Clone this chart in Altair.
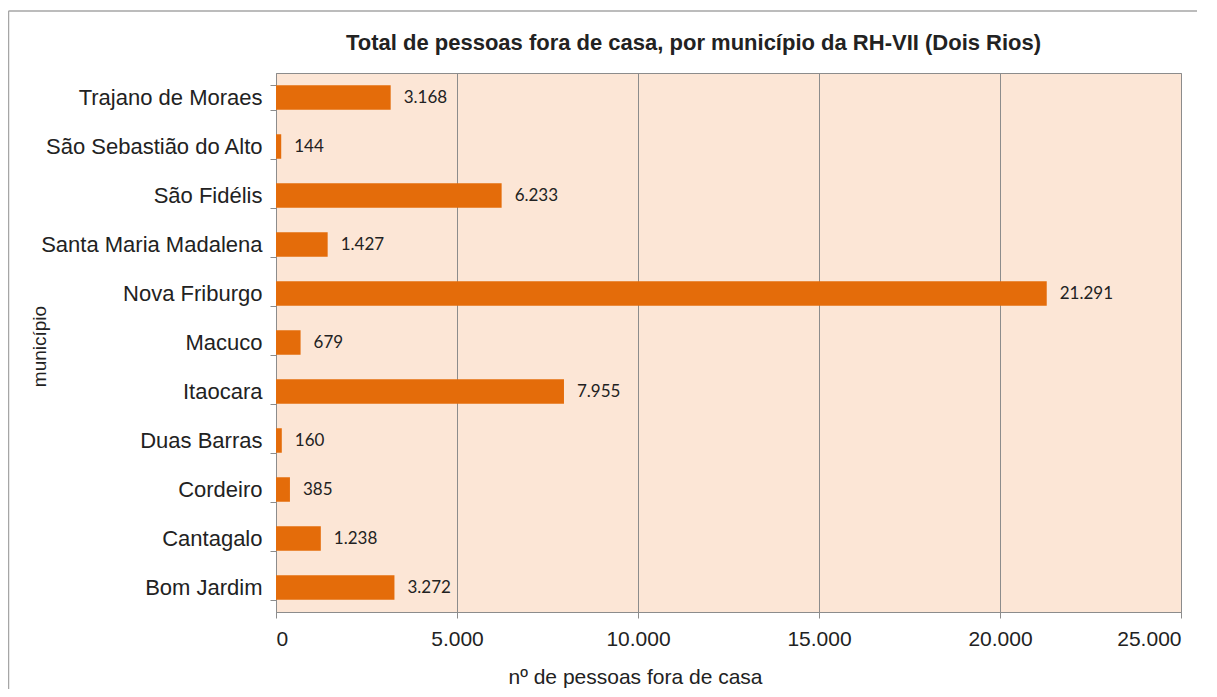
import altair as alt
import pandas as pd

municipios = ["Trajano de Moraes", "São Sebastião do Alto", "São Fidélis", "Santa Maria Madalena",
              "Nova Friburgo", "Macuco", "Itaocara", "Duas Barras", "Cordeiro", "Cantagalo", "Bom Jardim"]
pessoas = [3168, 144, 6233, 1427, 21291, 679, 7955, 160, 385, 1238, 3272]
x_ticks = [0, 5000, 10000, 15000, 20000, 25000]
titulo = ["Total de pessoas fora de casa, por município da RH-VII (Dois Rios)"]

df = pd.DataFrame({"municipio": municipios, "pessoas": pessoas})
df_title = pd.DataFrame({"titulo": titulo})

W, H = 905, 539
fmt = "replace(format(datum.value, ','), ',', '.')"

base = alt.Chart(df)
single = alt.Chart(df_title)

bars = base.mark_bar(color="#E46C0A").encode(
    x=alt.X("pessoas:Q",
            scale=alt.Scale(domain=[0, 25000], nice=False),
            axis=alt.Axis(values=x_ticks, labelExpr=fmt, title="nº de pessoas fora de casa",
                          grid=True, gridColor="#8C8C8C", gridWidth=1,
                          domainColor="#8C8C8C", tickColor="#8C8C8C", tickSize=6,
                          labelFont="Liberation Sans", labelFontSize=21, labelColor="#222222",
                          labelPadding=10,
                          titleFont="Liberation Sans", titleFontSize=21, titleFontWeight="normal",
                          titleColor="#222222", titleX=232, titleY=71, titleAlign="left",
                          titleBaseline="alphabetic")),
    y=alt.Y("municipio:N", sort=municipios,
            scale=alt.Scale(paddingInner=0.5, paddingOuter=0.25),
            axis=alt.Axis(title="município", tickBand="extent", tickSize=6,
                          domainColor="#8C8C8C", tickColor="#8C8C8C",
                          labelFont="Liberation Sans", labelFontSize=22, labelColor="#222222",
                          labelPadding=8, labelLimit=400,
                          titleFont="Liberation Sans", titleFontSize=19, titleFontWeight="normal",
                          titleColor="#222222", titleX=-237, titleY=273, titleAngle=-90,
                          titleBaseline="middle", titleAlign="center")),
)

labels = base.mark_text(align="left", baseline="middle", dx=13, font="Lato", fontSize=17,
                        color="#222222").encode(
    x="pessoas:Q",
    y=alt.Y("municipio:N", sort=municipios),
    text=alt.Text("label:N"),
).transform_calculate(label="replace(format(datum.pessoas, ','), ',', '.')")

title_mark = single.mark_text(font="Liberation Sans", fontSize=22, fontWeight="bold",
                              color="#222222", align="center", baseline="alphabetic").encode(
    text="titulo:N", x=alt.value(W / 2 - 35), y=alt.value(-23))

border_top = single.mark_rule(color="#A6A6A6", strokeWidth=1.5).encode(
    x=alt.value(-267.5), x2=alt.value(W + 40), y=alt.value(-62))
border_left = single.mark_rule(color="#A6A6A6", strokeWidth=1.5).encode(
    x=alt.value(-267.5), y=alt.value(-62), y2=alt.value(H + 120))

chart = alt.layer(bars, labels, title_mark, border_top, border_left).properties(
    width=W, height=H,
    autosize=alt.AutoSizeParams(type="none"),
    padding={"left": 268, "top": 65, "right": 16, "bottom": 77},
    background="white",
).configure_view(
    fill="#FCE6D6", stroke="#8C8C8C", strokeWidth=1
)

chart.save("out.html", embed_options={"renderer": "svg", "actions": False})
